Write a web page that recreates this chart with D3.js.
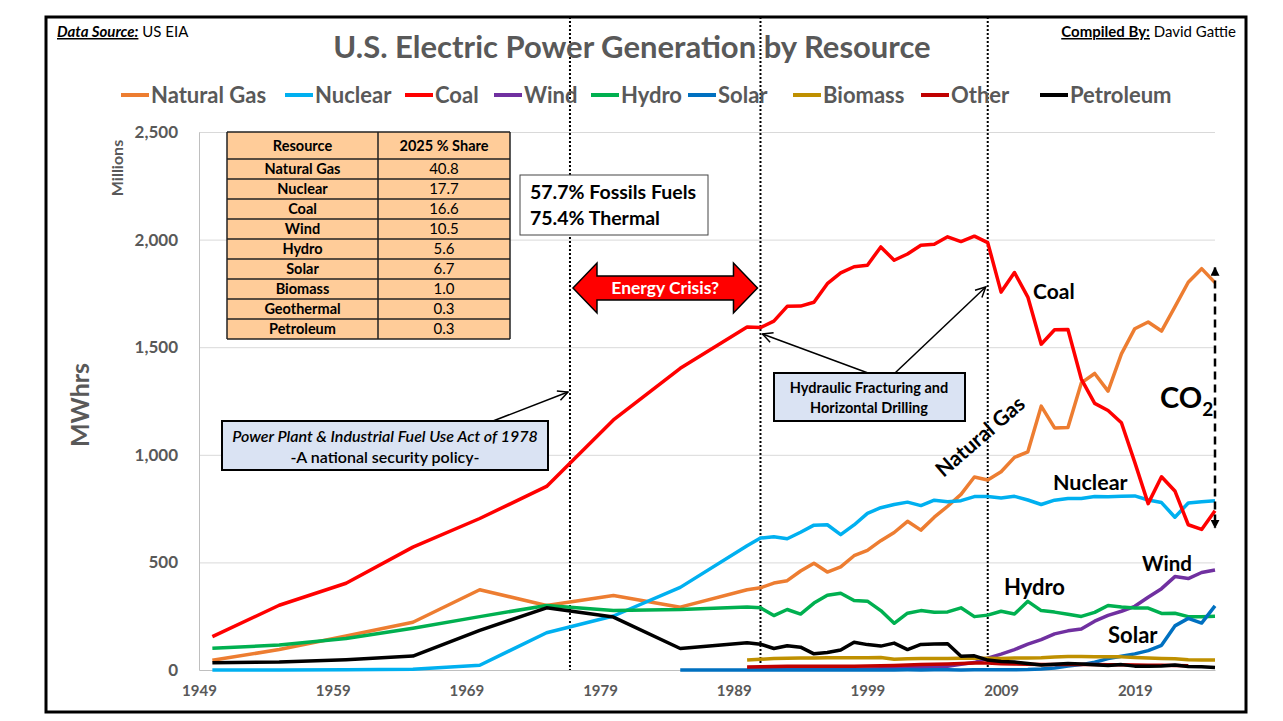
<!DOCTYPE html>
<html>
<head>
<meta charset="utf-8">
<script src="https://cdn.jsdelivr.net/npm/d3@7"></script>
<style>
  body { margin: 0; background: #fff; }
  text { font-family: Lato, "Open Sans", sans-serif; }
</style>
</head>
<body>
<script>
// years with data (5-yr steps early, annual from 1990)
let years = [1950,1955,1960,1965,1970,1975,1980,1985,
  1990,1991,1992,1993,1994,1995,1996,1997,1998,1999,
  2000,2001,2002,2003,2004,2005,2006,2007,2008,2009,
  2010,2011,2012,2013,2014,2015,2016,2017,2018,2019,
  2020,2021,2022,2023,2024,2025]

let naturalGas = [45,95,158,222,373,300,346,292,
  373,382,404,415,460,496,455,479,531,556,
  601,639,691,650,710,761,816,897,883,921,
  988,1014,1226,1125,1127,1334,1378,1296,1469,1586,
  1617,1575,1687,1802,1865,1800]
let nuclear = [0,0,1,4,22,173,251,384,
  577,613,619,610,640,673,675,629,674,728,
  754,769,780,764,789,782,787,806,806,799,
  807,790,769,789,797,797,806,805,807,809,
  790,778,710,776,782,786]
let coal = [155,301,403,571,704,853,1162,1402,
  1594,1591,1621,1690,1691,1709,1795,1845,1874,1881,
  1966,1904,1933,1974,1978,2013,1991,2016,1986,1756,
  1847,1733,1514,1581,1582,1352,1239,1206,1149,965,
  773,898,832,675,653,740]
let wind = [null,null,null,null,null,null,null,null,
  3,3,3,3,3.4,3.2,3.2,3.3,3,4.5,
  5.6,6.7,10.4,11.2,14.1,17.8,26.6,34.5,55.4,73.9,
  94.7,120,141,168,182,191,227,254,273,296,
  338,378,434,425,453,465]
let hydro = [101,116,146,194,248,300,276,281,
  293,289,253,281,260,311,347,357,323,320,
  276,217,264,276,268,270,289,248,255,273,
  260,319,276,269,259,249,268,300,293,288,
  288,263,264,248,248,250]
let solar = [null,null,null,null,null,null,null,0,
  0.4,0.5,0.4,0.5,0.5,0.5,0.5,0.5,0.5,0.5,
  0.5,0.5,0.6,0.5,0.6,0.6,0.5,0.6,0.9,0.9,
  1.2,1.8,4.3,9,18,25,36,53,64,75,
  90,115,205,240,218,298]
let biomass = [null,null,null,null,null,null,null,null,
  46,50,54,55,56,56,57,57,57,57,
  58,50,52,53,54,54,55,55,55,54,
  56,56,57,60,63,63,62,62,61,58,
  56,54,52,48,47,47]
let other = [null,null,null,null,null,null,null,null,
  14,15,16,17,17,17,18,18,18,19,
  20,21,23,25,27,28,30,32,32,29,
  28,27,26,26,26,25,25,24,24,23,
  22,22,21,20,null,null]
let petroleum = [34,37,48,65,184,289,246,100,
  127,120,100,113,106,75,81,93,129,118,
  111,125,95,119,121,122,64,66,46,39,
  37,30,23,27,30,28,24,21,25,18,
  18,19,23,16,15,12]

let seriesNames = ["Natural Gas","Nuclear","Coal","Wind","Hydro","Solar","Biomass","Other","Petroleum"]
let seriesValues = [naturalGas,nuclear,coal,wind,hydro,solar,biomass,other,petroleum]
let seriesColors = ["#ED7D31","#00B0F0","#FF0000","#7030A0","#00B050","#0070C0","#BF9000","#C00000","#000000"]

let yTicks = [0,500,1000,1500,2000,2500]
let xTicks = [1949,1959,1969,1979,1989,1999,2009,2019]

let tableResources = ["Natural Gas","Nuclear","Coal","Wind","Hydro","Solar","Biomass","Geothermal","Petroleum"]
let tableShares = ["40.8","17.7","16.6","10.5","5.6","6.7","1.0","0.3","0.3"]

let markerYears = [1976.75, 1991, 2008]

let W = 1283, H = 721
let plot = {left:199, right:1215, top:132, bottom:670}
let grayText = "#595959"

let svg = d3.select("body").append("svg").attr("width",W).attr("height",H)

let defs = svg.append("defs")
defs.append("marker").attr("id","open").attr("viewBox","0 0 12 12")
    .attr("refX",11).attr("refY",6).attr("markerWidth",12).attr("markerHeight",12)
    .attr("markerUnits","userSpaceOnUse").attr("orient","auto")
  .append("path").attr("d","M1,1 L11,6 L1,11").attr("fill","none").attr("stroke","#000").attr("stroke-width",1.5)
defs.append("marker").attr("id","solid").attr("viewBox","0 0 10 10")
    .attr("refX",9).attr("refY",5).attr("markerWidth",9).attr("markerHeight",9)
    .attr("markerUnits","userSpaceOnUse").attr("orient","auto-start-reverse")
  .append("path").attr("d","M0,0 L10,5 L0,10 Z").attr("fill","#000")

let x = d3.scaleLinear().domain([1949,2025]).range([plot.left,plot.right])
let y = d3.scaleLinear().domain([0,2500]).range([plot.bottom,plot.top])

// gridlines
svg.append("g").attr("transform","translate("+plot.left+",0)")
   .call(d3.axisLeft(y).tickValues(yTicks.slice(1)).tickSize(-(plot.right-plot.left)).tickFormat(""))
   .call(g=>g.select(".domain").remove())
   .call(g=>g.selectAll("line").attr("stroke","#D9D9D9").attr("stroke-width",1))

// y axis
svg.append("g").attr("transform","translate("+plot.left+",0)")
   .call(d3.axisLeft(y).tickValues(yTicks).tickSize(0).tickPadding(21).tickFormat(d3.format(",")))
   .call(g=>g.select(".domain").attr("stroke","#BFBFBF"))
   .call(g=>g.selectAll("text").attr("fill",grayText).attr("font-size",17).attr("font-weight","bold")
          .attr("font-family","Lato, sans-serif"))

// x axis
svg.append("g").attr("transform","translate(0,"+plot.bottom+")")
   .call(d3.axisBottom(x).tickValues(xTicks).tickSize(0).tickPadding(15).tickFormat(d3.format("d")))
   .call(g=>g.select(".domain").attr("stroke","#BFBFBF"))
   .call(g=>g.selectAll("text").attr("fill",grayText).attr("font-size",15).attr("font-weight","bold")
          .attr("font-family","Lato, sans-serif"))

// axis titles
svg.append("text").attr("transform","translate(89,405) rotate(-90)").attr("text-anchor","middle")
   .attr("fill",grayText).attr("font-size",25).attr("font-weight","bold").text("MWhrs")
svg.append("text").attr("transform","translate(123,168) rotate(-90)").attr("text-anchor","middle")
   .attr("fill",grayText).attr("font-size",16).attr("font-weight","bold").text("Millions")

// vertical dotted markers
svg.selectAll("line.marker").data(markerYears).enter().append("line")
   .attr("class","marker")
   .attr("x1",d=>x(d)).attr("x2",d=>x(d)).attr("y1",17).attr("y2",plot.bottom)
   .attr("stroke","#000").attr("stroke-width",2).attr("stroke-dasharray","2,2")

// series lines
let line = d3.line().defined(d=>d[1]!=null).x(d=>x(d[0])).y(d=>y(d[1]))
svg.selectAll("path.series").data(seriesValues).enter().append("path")
   .attr("class","series")
   .attr("d",vals=>line(years.map((yr,i)=>[yr,vals[i]])))
   .attr("fill","none").attr("stroke",(d,i)=>seriesColors[i])
   .attr("stroke-width",3.5).attr("stroke-linejoin","round")

// title + header texts
svg.append("text").attr("x",632).attr("y",58).attr("text-anchor","middle")
   .attr("fill",grayText).attr("font-size",31).attr("font-weight","bold")
   .text("U.S. Electric Power Generation by Resource")

let ds = svg.append("text").attr("x",57).attr("y",37).attr("font-size",15)
ds.append("tspan").attr("font-weight","bold").attr("font-style","italic").attr("text-decoration","underline").text("Data Source:")
ds.append("tspan").text(" US EIA")
let cb = svg.append("text").attr("x",1236).attr("y",37).attr("font-size",15).attr("text-anchor","end")
cb.append("tspan").attr("font-weight","bold").attr("text-decoration","underline").text("Compiled By:")
cb.append("tspan").text(" David Gattie")

// legend
let legendX = [121,285,405,494,591,688,793,921,1040]
let lg = svg.selectAll("g.legend").data(seriesNames).enter().append("g")
   .attr("class","legend").attr("transform",(d,i)=>"translate("+legendX[i]+",95)")
lg.append("line").attr("x1",0).attr("x2",28).attr("stroke",(d,i)=>seriesColors[i]).attr("stroke-width",4)
lg.append("text").attr("x",30).attr("y",8).attr("fill",grayText).attr("font-size",22)
  .attr("font-weight","bold").text(d=>d)

// table
let tb = svg.append("g")
let tLeft = 227, tMid = 378, tRight = 510, tTop = 132, headH = 27, rowH = 20
tb.append("rect").attr("x",tLeft).attr("y",tTop).attr("width",tRight-tLeft)
  .attr("height",headH+rowH*tableResources.length).attr("fill","#FFCC99")
let rowsY = [tTop].concat(tableResources.map((d,i)=>tTop+headH+rowH*i))
rowsY.concat([tTop+headH+rowH*tableResources.length]).forEach(yy=>{
  tb.append("line").attr("x1",tLeft).attr("x2",tRight).attr("y1",yy).attr("y2",yy).attr("stroke","#222").attr("stroke-width",1.5)
})
;[tLeft,tMid,tRight].forEach(xx=>{
  tb.append("line").attr("x1",xx).attr("x2",xx).attr("y1",tTop).attr("y2",tTop+headH+rowH*tableResources.length)
    .attr("stroke","#222").attr("stroke-width",1.5)
})
tb.append("text").attr("x",(tLeft+tMid)/2).attr("y",tTop+19).attr("text-anchor","middle")
  .attr("font-size",14.5).attr("font-weight","bold").text("Resource")
tb.append("text").attr("x",(tMid+tRight)/2).attr("y",tTop+19).attr("text-anchor","middle")
  .attr("font-size",14.5).attr("font-weight","bold").text("2025 % Share")
tb.selectAll("text.res").data(tableResources).enter().append("text").attr("class","res")
  .attr("x",(tLeft+tMid)/2).attr("y",(d,i)=>tTop+headH+rowH*i+15).attr("text-anchor","middle")
  .attr("font-size",14.5).attr("font-weight","bold").text(d=>d)
tb.selectAll("text.sh").data(tableShares).enter().append("text").attr("class","sh")
  .attr("x",(tMid+tRight)/2).attr("y",(d,i)=>tTop+headH+rowH*i+15).attr("text-anchor","middle")
  .attr("font-size",15).text(d=>d)

// fossil box
svg.append("rect").attr("x",520).attr("y",175).attr("width",188).attr("height",60)
   .attr("fill","#fff").attr("stroke","#444").attr("stroke-width",1)
svg.append("text").attr("x",530).attr("y",199).attr("font-size",19.5).attr("font-weight","bold").text("57.7% Fossils Fuels")
svg.append("text").attr("x",530).attr("y",225).attr("font-size",19.5).attr("font-weight","bold").text("75.4% Thermal")

// energy crisis double arrow
let ax0 = x(markerYears[0])+3, ax1 = x(markerYears[1])-3, ay = 288
svg.append("path")
   .attr("d","M"+ax0+","+ay+" L"+(ax0+24)+","+(ay-25)+" L"+(ax0+24)+","+(ay-12)+" L"+(ax1-24)+","+(ay-12)+
             " L"+(ax1-24)+","+(ay-25)+" L"+ax1+","+ay+" L"+(ax1-24)+","+(ay+25)+" L"+(ax1-24)+","+(ay+12)+
             " L"+(ax0+24)+","+(ay+12)+" L"+(ax0+24)+","+(ay+25)+" Z")
   .attr("fill","#FF0000").attr("stroke","#000").attr("stroke-width",1.5)
svg.append("text").attr("x",(ax0+ax1)/2).attr("y",ay+6).attr("text-anchor","middle")
   .attr("fill","#fff").attr("font-size",17.5).attr("font-weight","bold").text("Energy Crisis?")

// power plant act box
svg.append("rect").attr("x",222).attr("y",421).attr("width",326).attr("height",49)
   .attr("fill","#DAE3F3").attr("stroke","#000").attr("stroke-width",2)
svg.append("text").attr("x",385).attr("y",442).attr("text-anchor","middle").attr("font-size",16)
   .attr("font-style","italic").attr("font-weight","600").text("Power Plant & Industrial Fuel Use Act of 1978")
svg.append("text").attr("x",385).attr("y",463).attr("text-anchor","middle").attr("font-size",16)
   .attr("font-weight","600").text("-A national security policy-")
svg.append("line").attr("x1",493).attr("y1",421).attr("x2",x(markerYears[0])-2).attr("y2",392)
   .attr("stroke","#000").attr("stroke-width",1.5).attr("marker-end","url(#open)")

// hydraulic fracturing box
svg.append("rect").attr("x",774).attr("y",373).attr("width",191).attr("height",48)
   .attr("fill","#DAE3F3").attr("stroke","#000").attr("stroke-width",2)
svg.append("text").attr("x",869).attr("y",393).attr("text-anchor","middle").attr("font-size",14.5)
   .attr("font-weight","bold").text("Hydraulic Fracturing and")
svg.append("text").attr("x",869).attr("y",413).attr("text-anchor","middle").attr("font-size",14.5)
   .attr("font-weight","bold").text("Horizontal Drilling")
svg.append("line").attr("x1",868).attr("y1",373).attr("x2",x(markerYears[1])+2).attr("y2",334)
   .attr("stroke","#000").attr("stroke-width",1.5).attr("marker-end","url(#open)")
svg.append("line").attr("x1",895).attr("y1",373).attr("x2",x(markerYears[2])-2).attr("y2",287)
   .attr("stroke","#000").attr("stroke-width",1.5).attr("marker-end","url(#open)")

// series labels
let lbl = (t,xx,yy,fs)=>svg.append("text").attr("x",xx).attr("y",yy).attr("font-size",fs).attr("font-weight","bold").text(t)
lbl("Coal",1033,299,21)
lbl("Nuclear",1053,490,21.5)
lbl("Hydro",1004,595,22)
lbl("Wind",1142,571,20.5)
lbl("Solar",1108,643,22)
svg.append("text").attr("transform","translate(985,442) rotate(-41)").attr("text-anchor","middle")
   .attr("font-size",21).attr("font-weight","bold").text("Natural Gas")

// CO2 arrow
svg.append("line").attr("x1",x(2025)).attr("x2",x(2025)).attr("y1",y(1870)).attr("y2",y(660))
   .attr("stroke","#000").attr("stroke-width",2.5).attr("stroke-dasharray","8,5")
   .attr("marker-start","url(#solid)").attr("marker-end","url(#solid)")
let co = svg.append("text").attr("x",1160).attr("y",408).attr("font-size",29).attr("font-weight","bold")
co.append("tspan").text("CO")
co.append("tspan").attr("font-size",19).attr("dy",8).text("2")

// frame
svg.append("rect").attr("x",46).attr("y",17).attr("width",1200).attr("height",695)
   .attr("fill","none").attr("stroke","#000").attr("stroke-width",3)
</script>
</body>
</html>
